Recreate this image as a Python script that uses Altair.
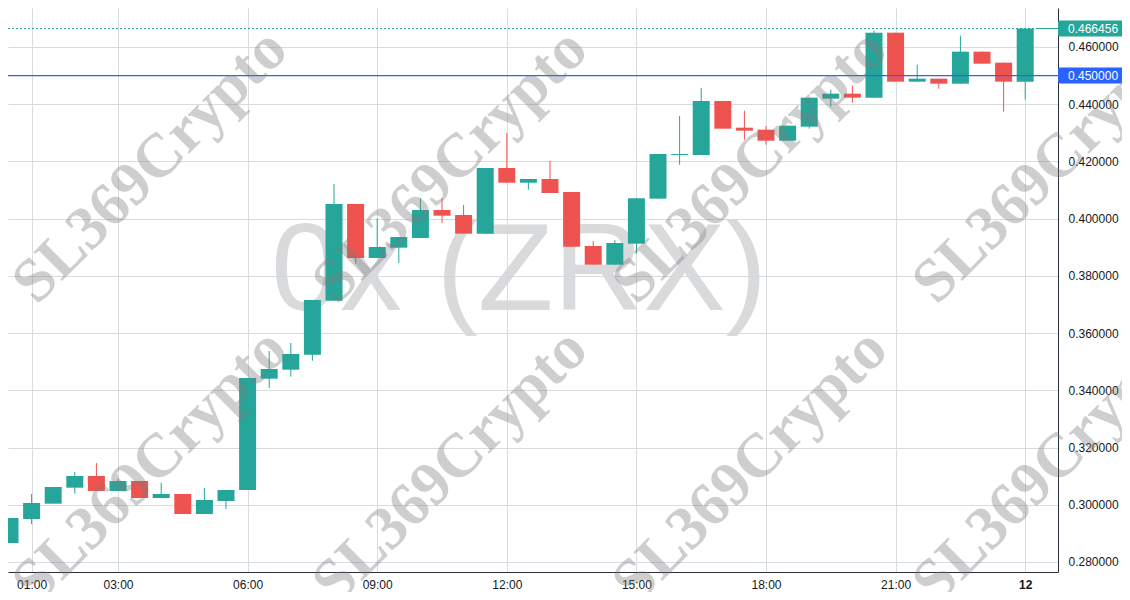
import altair as alt
import pandas as pd

# ---- data (30-minute candles, day 11 00:30 -> day 12 00:00) ----
times = ["00:30", "01:00", "01:30", "02:00", "02:30", "03:00", "03:30", "04:00",
         "04:30", "05:00", "05:30", "06:00", "06:30", "07:00", "07:30", "08:00",
         "08:30", "09:00", "09:30", "10:00", "10:30", "11:00", "11:30", "12:00",
         "12:30", "13:00", "13:30", "14:00", "14:30", "15:00", "15:30", "16:00",
         "16:30", "17:00", "17:30", "18:00", "18:30", "19:00", "19:30", "20:00",
         "20:30", "21:00", "21:30", "22:00", "22:30", "23:00", "23:30", "24:00"]
opens = [0.28664, 0.29503, 0.30038, 0.30597, 0.31006, 0.30482, 0.30831, 0.30237,
         0.30377, 0.29678, 0.30132, 0.30517, 0.34407, 0.34722, 0.35246, 0.37133,
         0.40513, 0.38626, 0.38986, 0.39325, 0.40304, 0.40129, 0.39475, 0.41771,
         0.41257, 0.41387, 0.40932, 0.39045, 0.38391, 0.39126, 0.40699, 0.42226,
         0.42226, 0.44113, 0.43180, 0.43110, 0.42725, 0.43215, 0.44194, 0.44369,
         0.44229, 0.46500, 0.44788, 0.44893, 0.44718, 0.45837, 0.45452, 0.44788]
highs = [0.29538, 0.30377, 0.30621, 0.31146, 0.31460, 0.30891, 0.30831, 0.30772,
         0.30377, 0.30587, 0.30517, 0.34431, 0.35375, 0.35654, 0.37158, 0.41212,
         0.40513, 0.40014, 0.39360, 0.40713, 0.40713, 0.40479, 0.41771, 0.42994,
         0.41387, 0.42016, 0.40932, 0.39220, 0.39255, 0.40713, 0.42261, 0.43589,
         0.44568, 0.44113, 0.43775, 0.43240, 0.43250, 0.44229, 0.44509, 0.44648,
         0.46570, 0.46500, 0.45382, 0.44893, 0.46396, 0.45837, 0.45452, 0.466456]
lows = [0.28664, 0.29328, 0.30038, 0.30387, 0.30482, 0.30482, 0.30237, 0.30237,
        0.29678, 0.29678, 0.29852, 0.30517, 0.34082, 0.34477, 0.35036, 0.37133,
        0.38427, 0.38626, 0.38451, 0.39325, 0.39843, 0.39475, 0.39475, 0.41257,
        0.41013, 0.40897, 0.39021, 0.38391, 0.38391, 0.38776, 0.40699, 0.41887,
        0.42226, 0.43145, 0.42760, 0.42586, 0.42725, 0.43145, 0.43915, 0.44054,
        0.44229, 0.44788, 0.44788, 0.44543, 0.44718, 0.45417, 0.43739, 0.44159]
closes = [0.29538, 0.30062, 0.30621, 0.31006, 0.30482, 0.30831, 0.30237, 0.30377,
          0.29678, 0.30167, 0.30517, 0.34431, 0.34746, 0.35270, 0.37158, 0.40513,
          0.38626, 0.39010, 0.39360, 0.40304, 0.40104, 0.39475, 0.41771, 0.41257,
          0.41387, 0.40897, 0.39021, 0.38391, 0.39150, 0.40713, 0.42261, 0.42261,
          0.44113, 0.43145, 0.43075, 0.42725, 0.43250, 0.44229, 0.44369, 0.44229,
          0.46500, 0.44788, 0.44893, 0.44718, 0.45837, 0.45417, 0.44788, 0.466456]

x_tick_hours = [1, 3, 6, 9, 12, 15, 18, 21, 24]
y_ticks = [0.28, 0.30, 0.32, 0.34, 0.36, 0.38, 0.40, 0.42, 0.44, 0.46]
marker_prices = [0.466456, 0.45]
marker_colors = ["#26a69a", "#2962ff"]
title_text = "0x (ZRX)"
watermark_text = "SL369Crypto"

# ---- tables ----
def to_hours(s):
    h, m = s.split(":")
    return int(h) + int(m) / 60.0

df = pd.DataFrame({"t": [to_hours(s) for s in times], "open": opens, "high": highs,
                   "low": lows, "close": closes})
df["dir"] = ["up" if c >= o else "down" for o, c in zip(opens, closes)]
df["bodyLow"] = df[["open", "close"]].min(axis=1)
df["bodyHigh"] = df[["open", "close"]].max(axis=1)

marks_df = pd.DataFrame({"price": marker_prices, "col": marker_colors})

GREEN, RED = "#26a69a", "#ef5350"
W, H = 1050, 564

xs = alt.Scale(domain=[0.4537, 24.759], nice=False, zero=False, padding=0)
ys = alt.Scale(domain=[0.2765, 0.47363], nice=False, zero=False, padding=0)

x_axis = alt.Axis(values=x_tick_hours,
                  labelExpr="datum.value == 24 ? '12' : (datum.value < 10 ? '0' : '') + datum.value + ':00'",
                  grid=True, gridColor="#d9dcdf", gridWidth=1, ticks=False, tickSize=0,
                  domainColor="#2a2e39", domainWidth=1, labelColor="#131722",
                  labelFont="Liberation Sans", labelFontSize=12, labelPadding=7,
                  labelFontWeight={"condition": {"test": "datum.value == 24", "value": "bold"},
                                   "value": "normal"},
                  labelFlush=False, labelOverlap=False, title=None)
y_axis = alt.Axis(values=y_ticks, format=".6f", orient="right", grid=True,
                  gridColor="#d9dcdf", gridWidth=1, ticks=False, tickSize=0,
                  domainColor="#2a2e39", domainWidth=1, labelColor="#131722",
                  labelFont="Liberation Sans", labelFontSize=12, labelPadding=10,
                  labelFlush=False, labelOverlap=False, title=None)

color = alt.Color("dir:N", scale=alt.Scale(domain=["up", "down"], range=[GREEN, RED]), legend=None)

base = alt.Chart(df)

big_title = alt.Chart(pd.DataFrame({"txt": [title_text]})).mark_text(
    font="Liberation Sans", fontSize=124, color="#d5d6d9", align="center",
    baseline="alphabetic", opacity=0.9
).encode(x=alt.value(511), y=alt.value(302), text="txt:N")

wicks = base.mark_rule(strokeWidth=1).encode(
    x=alt.X("t:Q", scale=xs, axis=x_axis),
    y=alt.Y("low:Q", scale=ys, axis=y_axis),
    y2="high:Q",
    color=color,
)
bodies = base.mark_bar(size=17).encode(
    x=alt.X("t:Q", scale=xs, axis=x_axis),
    y=alt.Y("bodyLow:Q", scale=ys, axis=y_axis),
    y2="bodyHigh:Q",
    color=color,
)

last_line = alt.Chart(marks_df.iloc[[0]]).mark_rule(
    color=GREEN, strokeDash=[2, 2], strokeWidth=1
).encode(y=alt.Y("price:Q", scale=ys, axis=y_axis), x=alt.value(0), x2=alt.value(1027))
last_stub = alt.Chart(marks_df.iloc[[0]]).mark_rule(color=GREEN, strokeWidth=1).encode(
    y=alt.Y("price:Q", scale=ys, axis=y_axis), x=alt.value(1028), x2=alt.value(W))
blue_line = alt.Chart(marks_df.iloc[[1]]).mark_rule(color="#2962ff", strokeWidth=1.2).encode(
    y=alt.Y("price:Q", scale=ys, axis=y_axis), x=alt.value(0), x2=alt.value(W))

label_box = alt.Chart(marks_df).mark_rect(yOffset=-8, y2Offset=8, cornerRadius=2).encode(
    y=alt.Y("price:Q", scale=ys, axis=y_axis), y2="price:Q",
    x=alt.value(W), x2=alt.value(1117),
    color=alt.Color("col:N", scale=None),
)
label_txt = alt.Chart(marks_df).mark_text(
    align="left", baseline="middle", color="white", font="Liberation Sans", fontSize=12
).encode(
    y=alt.Y("price:Q", scale=ys, axis=y_axis), x=alt.value(1060),
    text=alt.Text("price:Q", format=".6f"),
)

wm_df = pd.DataFrame({
    "px": [142, 442, 742, 1042, 142, 442, 742, 1042],
    "py": [158, 158, 158, 158, 458, 458, 458, 458],
    "txt": [watermark_text] * 8,
})
watermarks = alt.Chart(wm_df).mark_text(
    font="Liberation Serif", fontWeight="bold", fontSize=62, angle=315,
    align="center", baseline="middle", color="#7a7a7a", opacity=0.36
).encode(x=alt.X("px:Q", scale=None), y=alt.Y("py:Q", scale=None), text="txt:N")

chart = alt.layer(
    big_title, wicks, bodies, last_line, last_stub, blue_line, label_box, label_txt, watermarks
).properties(
    width=W, height=H,
    padding={"left": 0, "top": 0, "right": 64, "bottom": 20},
    autosize=alt.AutoSizeParams(type="none"),
    background="white",
).configure_view(strokeWidth=0)

chart.save("out.html", embed_options={"renderer": "svg", "actions": False})
